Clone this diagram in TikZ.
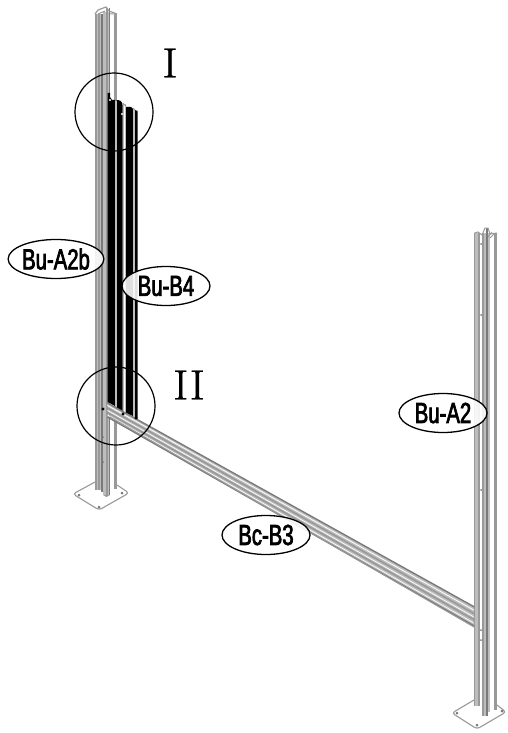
\documentclass[tikz,border=0pt]{standalone}
\usepackage{fontspec}
\usetikzlibrary{shapes.geometric}
\newfontfamily\lab[FakeStretch=.70,FakeBold=2.4]{Liberation Sans}
\newfontfamily\romn[FakeBold=.5,FakeStretch=1.12]{Latin Modern Roman}
\definecolor{pg}{gray}{.60}
\definecolor{pl}{gray}{.74}
\definecolor{pd}{gray}{.48}
\tikzset{
 tag/.style={ellipse,draw=black,line width=1.3pt,fill=white,fill opacity=.88,text opacity=1,minimum width=88pt,minimum height=39pt,inner sep=0pt,font=\lab\fontsize{29}{29}\selectfont},
 ring/.style={draw=black,line width=1.2pt,circle,minimum size=78pt,inner sep=0pt},
 roman/.style={inner sep=0pt,font=\romn\fontsize{42}{42}\selectfont},
 plate/.style={draw=pg,line width=1.1pt,fill=white,rounded corners=3pt},
 hole/.style={fill=pd,circle,inner sep=0pt,minimum size=3pt},
 pin/.style={fill=black,circle,inner sep=0pt,minimum size=3.2pt}
}
\newcommand\vs[5]{\fill[#5] (#1,#3) rectangle (#2,#4);}
\begin{document}
\begin{tikzpicture}[x=1pt,y=-1pt]
\useasboundingbox (0,0) rectangle (507,733);
% left base plate
\draw[plate] (95,482) -- (73,494) -- (99,510) -- (129,493) -- (117,485);
\node[hole] (h1) at (79,495) {};\node[hole] (h2) at (99,507) {};\node[hole] (h3) at (122,493) {};
% right base plate
\draw[plate] (474,700) -- (452,713) -- (477,729) -- (506,712) -- (497,705);
\node[hole] (h4) at (457,713) {};\node[hole] (h5) at (477,725) {};\node[hole] (h6) at (502,711) {};
% left post
\vs{95}{97}{14}{490}{pg}\vs{97}{98}{14}{490}{pl}\vs{98}{100}{14}{490}{pg}\vs{100}{101}{14}{490}{pl}
\vs{101}{103}{14}{492}{pd}\vs{103}{110}{12}{495}{pl}\vs{106}{108}{8}{495}{pg}\vs{108.5}{110}{8}{495}{pd}
\vs{110}{114}{14}{490}{white}\vs{114}{117}{14}{489}{pg}
\fill[pg] (103,495) -- (106.5,497) -- (110,495) -- cycle;
\draw[pg,line width=1.2pt] (95,14) -- (98,10) -- (106,7) -- (109,11) -- (117,14);
\draw[pg,line width=1pt] (98,14) -- (105,11) (110,14) -- (114,14);
% right post
\vs{474.5}{480}{233}{706}{pl}\draw[pg,line width=1pt] (474.5,233) -- (474.5,706);
\vs{478}{480}{233}{706}{pg}
\vs{480}{482}{233}{708}{white}
\vs{482}{488}{233}{716}{pg}\vs{484}{486}{233}{716}{pl}\vs{486}{488}{228}{716}{pd}
\vs{488}{494}{233}{712}{white}\vs{488}{489.5}{233}{712}{pl}
\vs{494}{497}{233}{710}{pg}
\draw[pg,line width=1pt] (474.5,233) -- (478,232) -- (482,235) -- (485,228) -- (488,228) -- (490,234) -- (497,233);
\draw[pg,line width=.8pt] (488,237) -- (492,232) (490,238) -- (494,234);
% post details
\foreach \q in {65,98}{\fill[pd] (102,\q) circle (1pt);}
\foreach \q in {437,462}{\fill[pd] (103,\q) circle (1pt);}
\foreach \q in {244,315,490,630,640}{\fill[pd] (481,\q) circle (1pt);}
% black profile
\fill[black] (107.5,93) -- (110,93) -- (110,97) -- (112,100) -- (115,100) -- (115,406) -- (107.5,402) -- cycle;
\fill[black] (116.5,100) .. controls (120,100) and (122,101) .. (122.5,105) -- (122.5,412) -- (116.5,408) -- cycle;
\fill[pl] (122.5,104) rectangle (126,414);
\fill[white] (123.5,104) rectangle (125,414);
\fill[black] (126,107) -- (131,107) -- (133,109) -- (133,416) -- (126,413) -- cycle;
\fill[pl] (133,109) rectangle (135,417);
\fill[black] (135,110) -- (137.5,111) -- (137.5,419) -- (135,418) -- cycle;
\vs{115}{116.5}{101}{407}{pl}
\draw[pg,line width=1pt] (122.5,103) -- (126,106) (133,108) -- (135,110);
\fill[white] (110,100) circle (1.2pt) (122,114) circle (1.1pt);
% beam
\fill[pl] (107,403) -- (475,607) -- (474,627) -- (110,417) -- cycle;
\foreach \o/\c/\w in {0/pd/1.4,2.5/white/.8,5/pg/1.6,7.5/white/.7,9.5/pg/1.7,12/white/.7,14/pd/1.4}{
 \draw[\c,line width=\w pt] (107.5,403+\o) -- (474.5,607+\o*1.37);}
\draw[pg,line width=1pt] (110,417) -- (474,627);
\draw[pg,line width=1pt] (474.5,607) -- (474,627);
% pins
\node[pin] (p1) at (103,409) {};\node[pin] (p2) at (123,414) {};\node[pin] (p3) at (136,418) {};
\node[ring] (c1) at (114,112) {};
\node[ring] (c2) at (116,406) {};
\node[roman] (t1) at (170,63) {I};
\node[roman] (t2) at (189,385) {II};
\node[tag] (a) at (56,259) {Bu-A2b};
\node[tag] (b) at (166,286) {Bu-B4};
\node[tag] (c) at (443,413) {Bu-A2};
\node[tag] (d) at (266,535) {Bc-B3};
\end{tikzpicture}
\end{document}
